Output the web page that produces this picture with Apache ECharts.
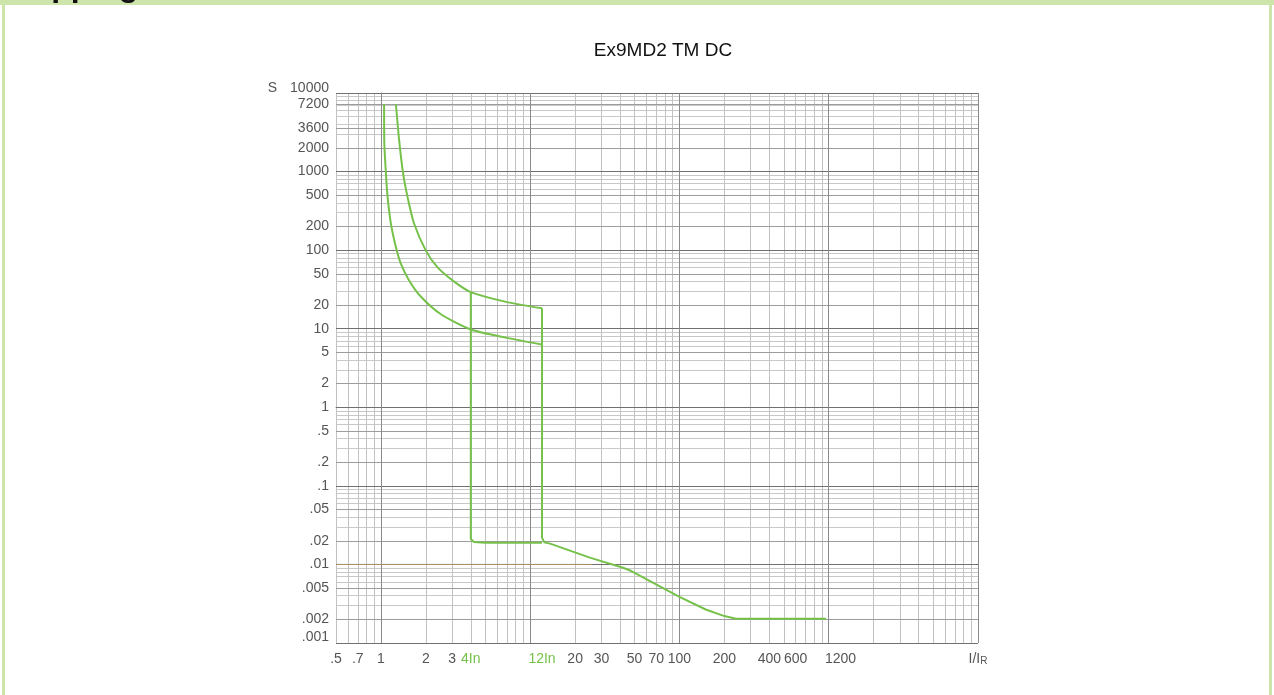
<!DOCTYPE html>
<html>
<head>
<meta charset="utf-8">
<script src="https://cdn.jsdelivr.net/npm/echarts@6.0.0/dist/echarts.min.js"></script>
<style>
html,body{margin:0;padding:0;background:#fff;}
#chart{width:1274px;height:695px;}
</style>
</head>
<body>
<div id="chart"></div>
<script>
// ---------- data ----------
const titleText = 'Ex9MD2 TM DC';
const headerText = 'Tripping curve';

const xTickValues = [0.5, 0.7, 1, 2, 3, 4, 12, 20, 30, 50, 70, 100, 200, 400, 600, 1200, 10000];
const xTickTexts  = ['.5', '.7', '1', '2', '3', '4In', '12In', '20', '30', '50', '70', '100', '200', '400', '600', '1200', 'I/IR'];

const yTickValues = [10000, 7200, 3600, 2000, 1000, 500, 200, 100, 50, 20, 10, 5, 2, 1, 0.5, 0.2, 0.1, 0.05, 0.02, 0.01, 0.005, 0.002, 0.001];
const yTickTexts  = ['10000', '7200', '3600', '2000', '1000', '500', '200', '100', '50', '20', '10', '5', '2', '1', '.5', '.2', '.1', '.05', '.02', '.01', '.005', '.002', '.001'];

const gridMultipliers = [1, 2, 3, 4, 5, 6, 7, 8, 9];
const xDecades = [0.1, 1, 10, 100, 1000, 10000];
const yDecades = [0.001, 0.01, 0.1, 1, 10, 100, 1000, 10000];

// lower thermal curve (1.05 In)
const lowerX = [1.05, 1.052, 1.08, 1.108, 1.166, 1.259, 1.36, 1.544, 1.848, 2.51, 4, 7, 12];
const lowerY = [7200, 2515, 946, 476, 218, 110, 67.3, 41.2, 25.7, 15.4, 9.77, 7.65, 6.29];

// upper thermal curve (1.3 In)
const upperX = [1.26, 1.324, 1.408, 1.507, 1.667, 1.995, 2.388, 3.08, 4, 7, 12];
const upperY = [7200, 2515, 946, 476, 218, 99.4, 60.9, 40, 29.2, 21.8, 18.2];

// 12 In vertical and the tail
const tailX = [12, 12, 12.4, 13.6, 25.1, 41.9, 47.6, 100, 150, 200, 239, 960];
const tailY = [18.2, 0.0219, 0.0192, 0.0184, 0.0122, 0.00908, 0.00824, 0.00387, 0.00267, 0.0022, 0.00203, 0.00203];

// 4 In vertical and plateau
const fourX = [4, 4, 4.2, 5, 12];
const fourY = [29.2, 0.021, 0.0193, 0.0189, 0.0189];

// reference line at 0.01 s
const refX = [0.5, 25.8];
const refY = [0.01, 0.01];

// ---------- helpers ----------
const zip = (xs, ys) => xs.map((x, i) => [x, ys[i]]);
const lg = v => Math.log10(v);
const gridVals = (decs, lo, hi) => {
  const out = [];
  decs.forEach(d => gridMultipliers.forEach(m => {
    const v = +(d * m).toPrecision(6);
    if (v >= lo - 1e-9 && v <= hi + 1e-9) out.push(v);
  }));
  return out;
};
const xMin = 0.5, xMax = 10000, yMin = 0.001, yMax = 10000;
const xMinor = gridVals(xDecades, xMin, xMax).map(lg);
const xMajor = xDecades.filter(v => v >= xMin && v <= xMax).map(lg);
const yMinor = gridVals(yDecades, yMin, yMax).map(lg);
const yLabeled = yTickValues.map(lg);
const yMajor = yDecades.map(lg);

const findText = (vals, texts, v) => {
  const i = vals.findIndex(t => Math.abs(lg(t) - v) < 1e-6);
  return i < 0 ? '' : texts[i];
};

const GREEN = '#76c14a';
const FONT = 'Liberation Sans';
const labelFont = { fontFamily: FONT, fontSize: 14, color: '#555' };

const chart = echarts.init(document.getElementById('chart'), null, { renderer: 'canvas' });
const grid = { left: 336, right: 296, top: 93, bottom: 52 };

const option = {
  backgroundColor: '#fff',
  animation: false,
  title: {
    text: titleText,
    left: 658, top: 36, textAlign: 'center',
    textStyle: { fontFamily: FONT, fontSize: 19, fontWeight: 'normal', color: '#111' }
  },
  graphic: [
    { type: 'rect', left: 0, top: 0, shape: { width: 1274, height: 5 }, style: { fill: '#cde4ab' }, z: 10 },
    { type: 'rect', left: 2, top: 0, shape: { width: 3, height: 695 }, style: { fill: '#cde4ab' }, z: 10 },
    { type: 'rect', left: 1269, top: 0, shape: { width: 3, height: 695 }, style: { fill: '#cde4ab' }, z: 10 },
    { type: 'text', z: 11, style: { x: 12, y: 3, text: headerText, font: 'bold 32px "Liberation Sans"', fill: '#111', verticalAlign: 'bottom' } }
  ],
  grid: grid,
  xAxis: [
    { type: 'log', min: xMin, max: xMax, logBase: 10, show: false },
    {
      type: 'value', position: 'bottom', min: lg(xMin), max: lg(xMax), z: 0,
      axisLine: { show: true, lineStyle: { color: '#888', width: 1 } },
      axisTick: { show: false, customValues: xMinor },
      splitLine: { show: true, lineStyle: { color: '#c2c2c2', width: 1 } },
      axisLabel: {
        show: true, margin: 9, customValues: xTickValues.map(lg), ...labelFont,
        showMinLabel: true, showMaxLabel: true, hideOverlap: false,
        formatter: v => {
          const t = findText(xTickValues, xTickTexts, v);
          if (/In$/.test(t)) return '{g|' + t + '}';
          if (t === 'I/IR') return '{a|I/I}{b|R}';
          return t;
        },
        rich: {
          g: { color: GREEN, fontFamily: FONT, fontSize: 14 },
          a: { color: '#555', fontFamily: FONT, fontSize: 14 },
          b: { color: '#555', fontFamily: FONT, fontSize: 10, verticalAlign: 'bottom', padding: [3, 0, 0, 0] }
        }
      }
    },
    {
      type: 'value', position: 'bottom', min: lg(xMin), max: lg(xMax), z: 1,
      axisLine: { show: false }, axisLabel: { show: false },
      axisTick: { show: false, customValues: xMajor },
      splitLine: { show: true, lineStyle: { color: '#8a8a8a', width: 1 } }
    }
  ],
  yAxis: [
    { type: 'log', min: yMin, max: yMax, logBase: 10, show: false },
    {
      type: 'value', position: 'left', min: lg(yMin), max: lg(yMax), z: 0,
      axisLine: { show: true, lineStyle: { color: '#777', width: 1 } },
      axisTick: { show: false, customValues: yMinor },
      splitLine: { show: true, lineStyle: { color: '#c8c8c8', width: 1 } },
      axisLabel: {
        show: true, margin: 7, customValues: yTickValues.map(lg), ...labelFont,
        showMinLabel: true, showMaxLabel: true, hideOverlap: false,
        formatter: v => {
          const t = findText(yTickValues, yTickTexts, v);
          if (t === '10000') return '{s|S}{n|10000}';
          if (t === '.001') return '{u|.001}';
          return t;
        },
        rich: {
          s: { color: '#555', fontFamily: FONT, fontSize: 14, padding: [0, 13, 10, 0] },
          n: { color: '#555', fontFamily: FONT, fontSize: 14, padding: [0, 0, 10, 0] },
          u: { color: '#555', fontFamily: FONT, fontSize: 14, padding: [0, 0, 12, 0] }
        }
      }
    },
    {
      type: 'value', position: 'left', min: lg(yMin), max: lg(yMax), z: 1,
      axisLine: { show: false }, axisLabel: { show: false },
      axisTick: { show: false, customValues: yLabeled },
      splitLine: { show: true, lineStyle: { color: '#9c9c9c', width: 1 } }
    },
    {
      type: 'value', position: 'left', min: lg(yMin), max: lg(yMax), z: 1,
      axisLine: { show: false }, axisLabel: { show: false },
      axisTick: { show: false, customValues: yMajor },
      splitLine: { show: true, lineStyle: { color: '#707070', width: 1 } }
    }
  ],
  series: [
    { type: 'line', xAxisIndex: 0, yAxisIndex: 0, data: zip(refX, refY), showSymbol: false, silent: true,
      lineStyle: { color: '#b08f68', width: 1 }, z: 3 },
    { type: 'line', xAxisIndex: 0, yAxisIndex: 0, data: zip(lowerX, lowerY), showSymbol: false, smooth: 0.25,
      lineStyle: { color: GREEN, width: 2 }, z: 4 },
    { type: 'line', xAxisIndex: 0, yAxisIndex: 0, data: zip(upperX, upperY), showSymbol: false, smooth: 0.25,
      lineStyle: { color: GREEN, width: 2 }, z: 4 },
    { type: 'line', xAxisIndex: 0, yAxisIndex: 0, data: zip(tailX, tailY), showSymbol: false, smooth: false,
      lineStyle: { color: GREEN, width: 2, join: 'round' }, z: 4 },
    { type: 'line', xAxisIndex: 0, yAxisIndex: 0, data: zip(fourX, fourY), showSymbol: false, smooth: false,
      lineStyle: { color: GREEN, width: 2, join: 'round' }, z: 4 }
  ]
};
chart.setOption(option);
</script>
</body>
</html>
